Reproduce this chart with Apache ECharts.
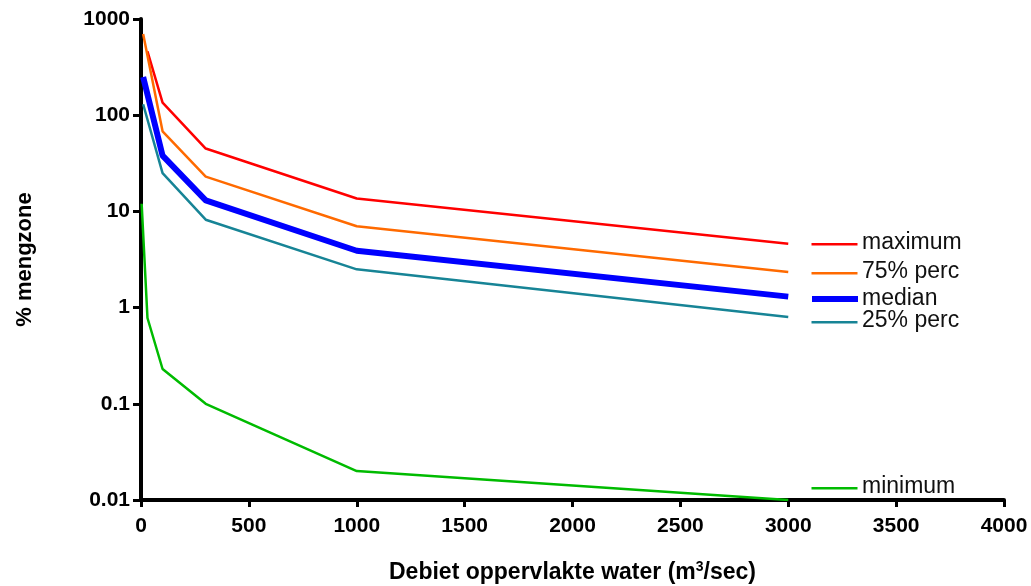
<!DOCTYPE html>
<html><head><meta charset="utf-8">
<script src="https://cdn.jsdelivr.net/npm/echarts@6/dist/echarts.min.js"></script>
<style>html,body{margin:0;padding:0;background:#fff}#c{width:1031px;height:586px}</style>
</head><body><div id="c"></div>
<script>
const seriesNames = ['maximum', '75% perc', 'median', '25% perc', 'minimum'];
const maxData = [[30, 460], [100, 135], [300, 45], [1000, 13.6], [3000, 4.6]];
const p75Data = [[10, 700], [100, 68], [300, 23], [1000, 7], [3000, 2.35]];
const medData = [[10, 250], [100, 38], [300, 13], [1000, 3.9], [3000, 1.3]];
const p25Data = [[10, 130], [100, 25], [300, 8.2], [1000, 2.5], [3000, 0.8]];
const minData = [[3, 12], [30, 0.78], [100, 0.23], [300, 0.1], [1000, 0.02], [3000, 0.01]];
const yTicks = [0.01, 0.1, 1, 10, 100, 1000];
const xTicks = [0, 500, 1000, 1500, 2000, 2500, 3000, 3500, 4000];

const colors = ['#ff0000', '#ff6a00', '#0000ff', '#178496', '#00bb00'];
const widths = [2.5, 2.5, 6, 2.5, 2.5];
const allData = [maxData, p75Data, medData, p25Data, minData];
const legendY = [243, 272, 299, 321, 487];

const chart = echarts.init(document.getElementById('c'));
const font = 'Liberation Sans, Arial, sans-serif';
const graphic = [];
seriesNames.forEach((n, i) => {
  graphic.push({type: 'line', left: 809, top: legendY[i] - widths[i] / 2, shape: {x1: 0, y1: 0, x2: 46, y2: 0},
    style: {stroke: colors[i], lineWidth: widths[i]}});
  graphic.push({type: 'text', left: 862, top: legendY[i] - 12,
    style: {text: n, font: '23px ' + font, fill: '#111'}});
});

chart.setOption({
  animation: false,
  grid: {left: 141, right: 27, top: 19, bottom: 86, containLabel: false, outerBoundsMode: 'none'},
  xAxis: {
    type: 'value', min: 0, max: 4000, interval: 500,
    axisLine: {lineStyle: {color: '#000', width: 4}},
    axisTick: {show: true, length: 7, lineStyle: {color: '#000', width: 3}},
    splitLine: {show: false},
    axisLabel: {color: '#000', fontFamily: font, fontWeight: 'bold', fontSize: 21, margin: 16,
      formatter: v => { const t = xTicks.find(x => x === v); return t === undefined ? '' : String(t); }},
    name: '{a|Debiet oppervlakte water (m}{s|3}{a|/sec)}',
    nameLocation: 'middle', nameGap: 60,
    nameTextStyle: {rich: {
      a: {fontFamily: font, fontWeight: 'bold', fontSize: 23, color: '#000'},
      s: {fontFamily: font, fontWeight: 'bold', fontSize: 14, color: '#000', verticalAlign: 'top', padding: [0, 0, 12, 0]}
    }}
  },
  yAxis: {
    type: 'log', logBase: 10, min: 0.01, max: 1000,
    axisLine: {lineStyle: {color: '#000', width: 4}},
    axisTick: {show: true, length: 8, lineStyle: {color: '#000', width: 3}},
    splitLine: {show: false},
    axisLabel: {color: '#000', fontFamily: font, fontWeight: 'bold', fontSize: 21, margin: 11,
      formatter: v => { const t = yTicks.find(x => Math.abs(Math.log10(x) - Math.log10(v)) < 1e-6); return t === undefined ? '' : String(t); }},
    name: '% mengzone', nameLocation: 'middle', nameGap: 105, nameRotate: 90,
    nameTextStyle: {fontFamily: font, fontWeight: 'bold', fontSize: 22, color: '#000'}
  },
  graphic: graphic,
  series: seriesNames.map((n, i) => ({
    name: n, type: 'line', data: allData[i], showSymbol: false, symbol: 'none',
    lineStyle: {color: colors[i], width: widths[i]}, z: 2 + (i === 2 ? 1 : 0)
  }))
});
</script></body></html>
